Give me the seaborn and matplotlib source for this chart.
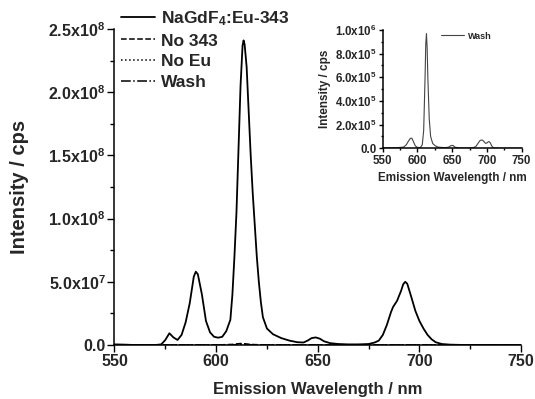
import numpy as np
import pandas as pd
import matplotlib
matplotlib.use("Agg")
import matplotlib.pyplot as plt
import matplotlib.ticker as ticker
import seaborn as sns

# --- data (intensity in cps) ---
wl_main = [550, 555, 560, 565, 570, 573, 575, 577, 579, 581, 583, 585, 587, 589, 590,
           591, 593, 595, 597, 599, 601, 603, 605, 607, 608, 609, 610, 611, 612, 613,
           613.5, 614, 615, 616, 617, 618, 619, 620, 621, 622, 623, 625, 628, 632, 636,
           640, 643, 645, 647, 649, 651, 653, 656, 660, 665, 670, 675, 678, 680, 682,
           684, 686, 687, 689, 691, 692, 693, 694, 696, 698, 700, 702, 704, 706, 708,
           711, 715, 720, 730, 740, 750]
eu343 = [0.05, 0.03, 0.0, 0.0, 0.0, 0.05, 0.4, 0.93, 0.6, 0.4, 0.8, 1.8, 3.3, 5.4, 5.8,
         5.6, 4.0, 1.9, 1.0, 0.65, 0.58, 0.65, 1.1, 2.0, 4.0, 7.0, 10.5, 15.5, 20.5, 23.7,
         24.1, 23.8, 22.0, 18.5, 15.0, 12.0, 9.5, 7.0, 5.0, 3.4, 2.2, 1.3, 0.85, 0.55, 0.35,
         0.22, 0.2, 0.35, 0.55, 0.6, 0.5, 0.3, 0.15, 0.08, 0.05, 0.05, 0.08, 0.2, 0.35, 0.8,
         1.6, 2.6, 3.0, 3.5, 4.3, 4.8, 5.0, 4.85, 3.8, 2.7, 1.9, 1.3, 0.8, 0.45, 0.22,
         0.08, 0.03, 0.01, 0.0, 0.0, 0.0]
eu343 = [v * 1e7 for v in eu343]

wl_ctrl = [550, 600, 608, 612, 616, 625, 650, 700, 750]
no343 = [0.0, 0.0, 0.5e6, 1.2e6, 0.5e6, 0.0, 0.0, 0.0, 0.0]
noeu = [0.0, 0.0, 0.2e6, 0.6e6, 0.2e6, 0.0, 0.0, 0.0, 0.0]

wl_wash = [550, 570, 580, 584, 587, 590, 592, 594, 597, 600, 604, 607, 609, 611, 612,
           613, 614, 615, 617, 619, 622, 626, 630, 640, 645, 648, 651, 654, 660, 670,
           680, 684, 687, 690, 692, 694, 696, 698, 700, 702, 703, 705, 707, 709, 712,
           720, 750]
wash = [0.05, 0.05, 0.1, 0.3, 0.6, 0.85, 0.85, 0.6, 0.2, 0.08, 0.05, 0.3, 1.5, 6.0, 8.8,
        9.7, 8.5, 6.0, 2.5, 1.0, 0.4, 0.2, 0.1, 0.05, 0.1, 0.22, 0.25, 0.1, 0.03, 0.02,
        0.05, 0.15, 0.4, 0.65, 0.7, 0.68, 0.55, 0.42, 0.45, 0.55, 0.57, 0.45, 0.2, 0.06, 0.02,
        0.01, 0.01]
wash = [v * 1e5 for v in wash]

sns.set_style("ticks")
plt.rcParams["font.family"] = ["Liberation Sans", "DejaVu Sans"]
plt.rcParams["font.weight"] = "bold"
plt.rcParams["mathtext.fontset"] = "custom"
plt.rcParams["mathtext.rm"] = "Liberation Sans:bold"
plt.rcParams["mathtext.it"] = "Liberation Sans:bold"
plt.rcParams["mathtext.bf"] = "Liberation Sans:bold"
plt.rcParams["mathtext.default"] = "rm"


def sci(v, pos=None):
    if v == 0:
        return "0.0"
    e = int(np.floor(np.log10(abs(v)) + 1e-9))
    return f"{v / 10**e:.1f}x10$^{{{e}}}$"


def style_axes(ax, ymaj, ymin, size, tlen):
    sns.despine(ax=ax)
    ax.xaxis.set_major_locator(ticker.MultipleLocator(50))
    ax.xaxis.set_minor_locator(ticker.MultipleLocator(25))
    ax.yaxis.set_major_locator(ticker.MultipleLocator(ymaj))
    ax.yaxis.set_minor_locator(ticker.MultipleLocator(ymin))
    ax.yaxis.set_major_formatter(ticker.FuncFormatter(sci))
    ax.tick_params(which="major", direction="out", length=tlen, width=1,
                   labelsize=size, color="black", pad=1.5)
    ax.tick_params(which="minor", direction="out", length=tlen * 0.6, width=1,
                   color="black")
    for s in ax.spines.values():
        s.set_linewidth(1.1)
        s.set_color("black")
    for lab in ax.get_xticklabels() + ax.get_yticklabels():
        lab.set_fontweight("bold")


fig = plt.figure(figsize=(5.35, 3.99), dpi=100)
ax = fig.add_axes([0.214, 0.1353, 0.76, 0.792])

main = pd.DataFrame({"wl": wl_main, "I": eu343})
ctrl = pd.DataFrame({"wl": wl_ctrl, "no343": no343, "noeu": noeu})
wdf = pd.DataFrame({"wl": wl_wash, "I": wash})

sns.lineplot(data=main, x="wl", y="I", ax=ax, color="black", lw=1.3,
             label="NaGdF$_4$:Eu-343")
sns.lineplot(data=ctrl, x="wl", y="no343", ax=ax, color="black", lw=1.1,
             linestyle="--", label="No 343")
sns.lineplot(data=ctrl, x="wl", y="noeu", ax=ax, color="black", lw=1.1,
             linestyle=":", label="No Eu")
sns.lineplot(data=wdf, x="wl", y="I", ax=ax, color="black", lw=1.1,
             linestyle="-.", label="Wash")

ax.set_xlim(550, 750)
ax.set_ylim(0, 2.5e8)
style_axes(ax, 5e7, 2.5e7, 11.5, 5)
ax.set_xlabel("Emission Wavelength / nm", fontsize=12, fontweight="bold", labelpad=9)
ax.set_ylabel("Intensity / cps", fontsize=14.5, fontweight="bold", labelpad=14)

leg = ax.legend(loc="upper left", bbox_to_anchor=(0.203, 1.008), bbox_transform=fig.transFigure,
                frameon=False, fontsize=12.5, handlelength=2.0, handletextpad=0.3,
                labelspacing=0.33, borderpad=0.2)
for t in leg.get_texts():
    t.set_fontweight("bold")

# inset
ins = fig.add_axes([0.7153, 0.6283, 0.2597, 0.2965])
sns.lineplot(data=wdf, x="wl", y="I", ax=ins, color="#444444", lw=0.8, label="Wash")
ins.set_xlim(550, 750)
ins.set_ylim(0, 1e6)
style_axes(ins, 2e5, 1e5, 8.3, 3)
ins.set_xlabel("Emission Wavelength / nm", fontsize=8.5, fontweight="bold", labelpad=4)
ins.set_ylabel("Intensity / cps", fontsize=8.5, fontweight="bold", labelpad=3)
il = ins.legend(loc="upper right", frameon=False, fontsize=6.5, handlelength=2.6,
                handletextpad=0.4, borderpad=0.2, bbox_to_anchor=(0.83, 1.04))
for t in il.get_texts():
    t.set_fontweight("bold")

fig.savefig("out.png", dpi=100)
